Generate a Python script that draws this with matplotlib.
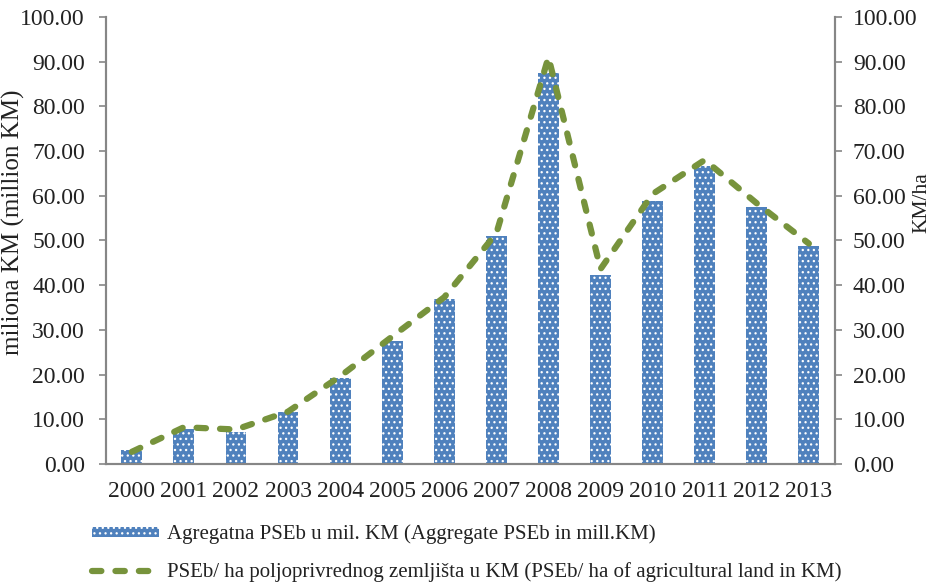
import numpy as np
import matplotlib.pyplot as plt
from matplotlib.patches import Patch
from matplotlib.lines import Line2D

years = ["2000", "2001", "2002", "2003", "2004", "2005", "2006",
         "2007", "2008", "2009", "2010", "2011", "2012", "2013"]
# aggregate PSEb, million KM (left axis)
aggregate = [3.1, 7.8, 7.2, 11.6, 19.2, 27.6, 36.9,
             51.1, 87.5, 42.3, 58.9, 66.6, 57.5, 48.7]
# PSEb per ha of agricultural land, KM (right axis)
per_ha = [2.7, 8.2, 7.7, 11.7, 19.6, 28.5, 37.3,
          51.6, 91.0, 43.6, 60.4, 68.0, 58.3, 49.3]

bar_label = "Agregatna PSEb u mil. KM (Aggregate PSEb in mill.KM)"
line_label = "PSEb/ ha poljoprivrednog zemljišta u KM (PSEb/ ha of agricultural land in KM)"

blue = "#4F81BD"
green = "#77933C"
grey = "#868686"
ink = "#222222"

plt.rcParams["font.family"] = ["Liberation Serif", "DejaVu Serif"]
plt.rcParams["hatch.color"] = "white"
plt.rcParams["hatch.linewidth"] = 0.9

fig = plt.figure(figsize=(9.36, 5.85), dpi=100)
ax = fig.add_axes([0.113, 0.207, 0.779, 0.764])
ax2 = ax.twinx()

x = np.arange(len(years))
ax.bar(x, aggregate, width=0.4, color=blue, edgecolor="white", linewidth=0, hatch="...", zorder=2)
ax2.plot(x, per_ha, color=green, lw=4.5, dashes=(1.5, 2.25), dash_capstyle="round", zorder=3)

for a in (ax, ax2):
    a.set_ylim(0, 100)
    a.set_yticks(np.arange(0, 101, 10))
    a.set_yticklabels([f"{v:.2f}" for v in range(0, 101, 10)])
    a.spines["top"].set_visible(False)
    for s in a.spines.values():
        s.set_color(grey)
        s.set_linewidth(1.5)
    a.tick_params(axis="y", length=5, width=1.2, color=grey, labelsize=17, labelcolor=ink)

ax.set_xlim(-0.5, len(years) - 0.5)
ax.set_xticks(x)
ax.set_xticklabels(years)
ax.tick_params(axis="x", length=0, pad=12, labelsize=17, labelcolor=ink)
ax.tick_params(axis="y", pad=10)
ax2.tick_params(axis="y", pad=8)

ax.set_ylabel("miliona KM (million KM)", fontsize=18, color=ink)
ax.yaxis.set_label_coords(-0.111, 0.541)
ax2.set_ylabel("KM/ha", fontsize=15.5, color=ink)
ax2.yaxis.set_label_coords(1.106, 0.584)

handles = [Patch(facecolor=blue, edgecolor="white", linewidth=0, hatch="..."),
           Line2D([], [], color=green, lw=4.5, dashes=(1.5, 2.25), dash_capstyle="round")]
leg = fig.legend(handles, [bar_label, line_label], loc="upper left",
                 bbox_to_anchor=(0.098, 0.103), frameon=False, fontsize=15,
                 handlelength=3.25, handleheight=0.42, handletextpad=0.34,
                 labelspacing=0.85, borderaxespad=0, borderpad=0)
for t in leg.get_texts():
    t.set_color(ink)

fig.savefig("out.png", dpi=100)
